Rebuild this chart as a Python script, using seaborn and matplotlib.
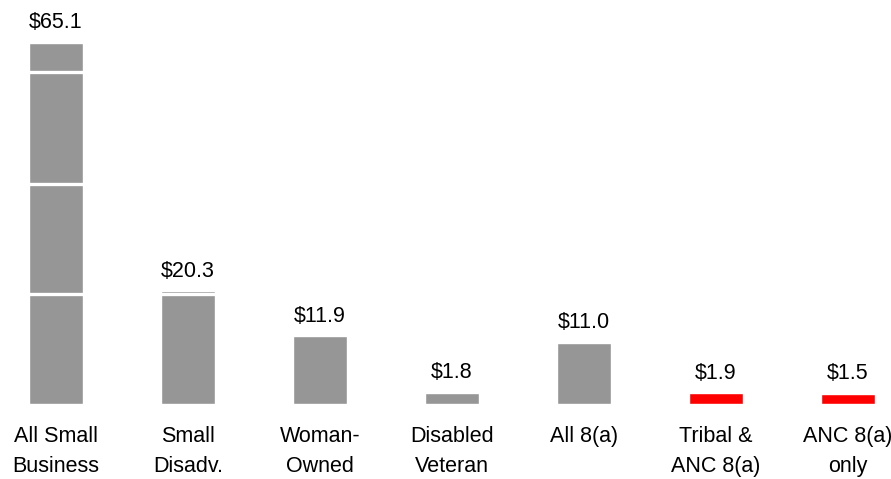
import numpy as np
import pandas as pd
import matplotlib
matplotlib.use("Agg")
import matplotlib.pyplot as plt
import seaborn as sns

# data
categories = ["All Small\nBusiness", "Small\nDisadv.", "Woman-\nOwned", "Disabled\nVeteran",
              "All 8(a)", "Tribal &\nANC 8(a)", "ANC 8(a)\nonly"]
bar_heights = [65.1, 20.3, 12.2, 2.0, 11.0, 1.9, 1.8]
value_labels = ["$65.1", "$20.3", "$11.9", "$1.8", "$11.0", "$1.9", "$1.5"]
# internal segment boundaries (stacked pieces) per bar
segment_breaks = [[19.8, 39.6, 59.9], [19.8], [], [], [], [], []]
highlight = [False, False, False, False, False, True, True]

sns.set_theme(style="white")
plt.rcParams["font.family"] = ["Liberation Sans", "DejaVu Sans"]

gray = "#969696"
red = "#ff0000"

df = pd.DataFrame({"category": categories, "height": bar_heights, "hl": highlight})
colors = [red if h else gray for h in df["hl"]]

fig = plt.figure(figsize=(8.91, 4.79), dpi=100)
ax = fig.add_axes([0, 75 / 479, 1, 404 / 479])

sns.barplot(data=df, x="category", y="height", hue="category", palette=colors,
            legend=False, width=0.41, saturation=1, ax=ax)

bw = 0.41
for i, breaks in enumerate(segment_breaks):
    for b in breaks:
        ax.hlines(b, i - bw / 2, i + bw / 2, colors="white", linewidth=2.4)

for i, (v, lab) in enumerate(zip(bar_heights, value_labels)):
    ax.annotate(lab, (i, v), xytext=(0, 10.5), textcoords="offset points",
                ha="center", va="baseline", fontsize=15.5, color="black")

ax.set_xlim(-0.424, 6.326)
ax.set_ylim(0, 404 / 5.545)
ax.set_xlabel("")
ax.set_ylabel("")
ax.set_yticks([])
ax.tick_params(axis="x", length=0, pad=16, labelsize=15.5, labelcolor="black")
for t in ax.get_xticklabels():
    t.set_linespacing(1.55)
sns.despine(ax=ax, left=True, bottom=True)

fig.savefig("out.png", dpi=100)
